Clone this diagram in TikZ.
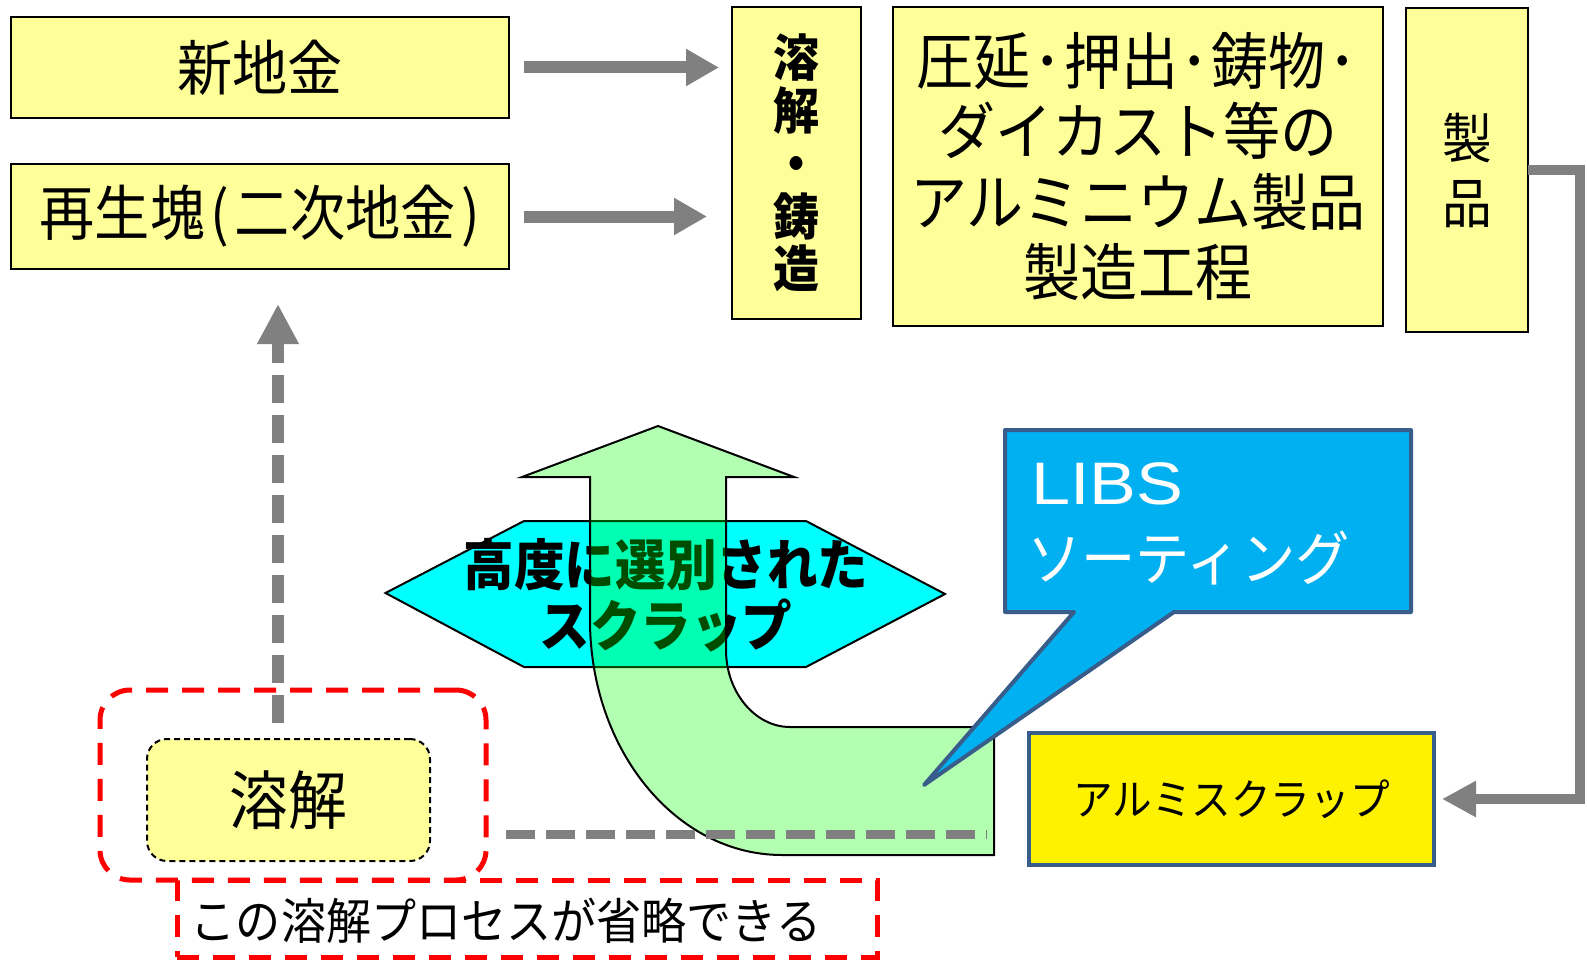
\documentclass[tikz,border=0pt]{standalone}
\usepackage{fontspec}
\usepackage{graphicx}
\usetikzlibrary{arrows.meta,calc}
\newfontfamily\jp[FakeStretch=0.92]{Noto Sans CJK JP}
\newfontfamily\libfont{Liberation Sans}
\definecolor{ly}{HTML}{FFFF99}
\definecolor{garr}{HTML}{808080}
\definecolor{cblue}{HTML}{00B0F0}
\definecolor{bdr}{HTML}{385D8A}
\definecolor{hcyan}{HTML}{00FFFF}
\newcommand\jfs[1]{\jp\fontsize{#1}{#1}\selectfont}
\newcommand\hdot{\kern2.5pt･\kern2.5pt}
\begin{document}
\begin{tikzpicture}[x=1pt,y=-1pt,
  tbox/.style={draw=black, line width=2.5pt, fill=ly, inner sep=0pt, outer sep=0pt, align=center},
  garrow/.style={draw=garr, line width=12pt, -{Triangle[length=33pt,width=35pt]}},
  reddash/.style={draw=red, line width=5pt, dash pattern=on 22pt off 14pt, inner sep=0pt, outer sep=0pt},
  gdash/.style={draw=garr, dash pattern=on 28pt off 12pt}
]
\useasboundingbox (0,0) rectangle (1587,963);
\fill[white] (0,0) rectangle (1587,963);

% top boxes
\node[tbox, minimum width=498pt, minimum height=101pt] (b1) at (260,67.5) {\jfs{60}新地金};
\node[tbox, minimum width=498pt, minimum height=105pt] (b2) at (260,216.5) {\jfs{60}再生塊\kern5pt(\kern6pt二次地金\kern6pt)\kern0pt};
\node[tbox, minimum width=129pt, minimum height=312pt,
      font=\jp\bfseries\fontsize{50}{52.75}\selectfont] (b3) at (796.5,163) {溶\\解\\・\\鋳\\造};
\node[tbox, minimum width=490pt, minimum height=319pt,
      font=\jp\fontsize{62}{70.5}\selectfont] (b4) at (1138,166.5) {圧延\hdot 押出\hdot 鋳物\hdot\\ダイカスト等の\\アルミニウム製品\\製造工程};
\node[tbox, minimum width=122pt, minimum height=324pt,
      font=\jp\fontsize{54}{65}\selectfont] (b5) at (1467,170) {製\\品};

% arrows to melting/casting
\draw[garrow, shorten <=15pt, shorten >=13pt] (b1.east) -- (b1.east -| b3.west);
\draw[garrow, shorten <=15pt, shorten >=25pt] (b2.east) -- (b2.east -| b3.west);

% hexagon
\filldraw[fill=hcyan, draw=black, line width=2pt] (385.5,593) -- (524,521) -- (806,521) -- (945,594) -- (806,667) -- (524,667) -- cycle;
\node[inner sep=0pt, align=center, font=\jp\bfseries\fontsize{55}{61}\selectfont] (ht) at (666,595) {高度に選別された\\スクラップ};

% green bent arrow (semi-transparent)
\filldraw[fill=green, fill opacity=0.3, draw=black, line width=2pt]
  (658,426) -- (794,477) -- (726,477) -- (726,650)
  .. controls (726,692) and (755,727) .. (790,727)
  -- (994,727) -- (994,855) -- (782,855)
  .. controls (676,855) and (590,750) .. (590,620)
  -- (590,477) -- (522,477) -- cycle;

% horizontal dashed line
\coordinate (h1) at (506,834);
\coordinate (h2) at (987,834);
\draw[gdash, line width=9pt, dash pattern=on 29pt off 11pt] (h1) -- (h2);

% LIBS callout
\filldraw[fill=cblue, draw=bdr, line width=4pt, line join=round]
  (1005,430) -- (1411,430) -- (1411,612) -- (1174,612) -- (924,785) -- (1074,612) -- (1005,612) -- cycle;
\node[anchor=west, inner sep=0pt, text=white] (lt1) at (1031,484) {\libfont\fontsize{60}{60}\selectfont\scalebox{1.17}[1]{LIBS}};
\node[anchor=west, inner sep=0pt, text=white] (lt2) at (1027,558) {\jfs{59}ソーティング};

% aluminium scrap box
\node[draw=bdr, line width=4pt, fill=yellow, inner sep=0pt, outer sep=0pt, minimum width=405pt, minimum height=132pt] (b7) at (1231.5,799) {\jfs{43}アルミスクラップ};

% return connector
\draw[garrow, line width=10pt, -{Triangle[length=34pt,width=34pt]}] (b5.east) -- ++(51.5,0) |- ([xshift=8pt]b7.east);

% red dashed boxes
\node[reddash, rounded corners=30pt, minimum width=386pt, minimum height=190pt] (r1) at (293,785) {};
\node[reddash, minimum width=700pt, minimum height=77pt] (r2) at (527,918.5) {};
\node[inner sep=0pt] (t1) at (506,921) {\jfs{49}この溶解プロセスが省略できる};

% melting box
\node[draw=black, line width=2pt, dash pattern=on 6pt off 4pt, fill=ly, rounded corners=20pt, inner sep=0pt, outer sep=0pt,
      minimum width=283pt, minimum height=122pt] (b6) at (288.5,800) {\jfs{64}溶解};

% dashed vertical arrow
\coordinate (d1) at (278,723);
\coordinate (d2) at (278,304);
\draw[gdash, line width=12pt, -{Triangle[length=40pt,width=39pt]}] (d1) -- (d2);
\end{tikzpicture}
\end{document}
